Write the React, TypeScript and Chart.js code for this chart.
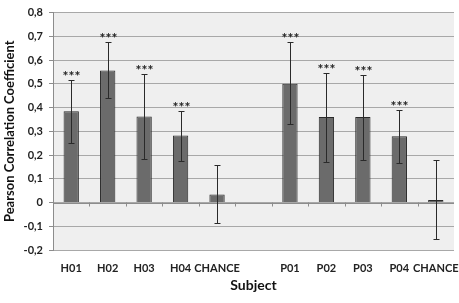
import React, { useEffect, useRef } from "react";
import { Chart, registerables } from "chart.js";

Chart.register(...registerables);

const categories = ["H01", "H02", "H03", "H04", "CHANCE", "", "P01", "P02", "P03", "P04", "CHANCE"];
const means: (number | null)[] = [0.384, 0.556, 0.362, 0.282, 0.034, null, 0.5, 0.36, 0.36, 0.279, 0.011];
const errHigh: (number | null)[] = [0.515, 0.678, 0.541, 0.384, 0.159, null, 0.676, 0.547, 0.539, 0.391, 0.179];
const errLow: (number | null)[] = [0.25, 0.44, 0.184, 0.176, -0.086, null, 0.331, 0.172, 0.18, 0.168, -0.152];
const significant: boolean[] = [true, true, true, true, false, false, true, true, true, true, false];
const yTicks = [-0.2, -0.1, 0, 0.1, 0.2, 0.3, 0.4, 0.5, 0.6, 0.7, 0.8];

const FONT = "Lato, 'Open Sans', sans-serif";

const plotBg = {
  id: "plotBg",
  beforeDraw(chart: any) {
    const { ctx, chartArea } = chart;
    ctx.save();
    ctx.fillStyle = "#efefef";
    ctx.fillRect(chartArea.left, chartArea.top, chartArea.right - chartArea.left, chartArea.bottom - chartArea.top);
    ctx.restore();
  },
};

const overlay = {
  id: "overlay",
  afterDatasetsDraw(chart: any) {
    const { ctx, chartArea } = chart;
    const x = chart.scales.x;
    const y = chart.scales.y;
    const y0 = y.getPixelForValue(0);
    ctx.save();
    ctx.strokeStyle = "#8c8c8c";
    ctx.lineWidth = 1;
    ctx.beginPath();
    ctx.moveTo(chartArea.left, Math.round(y0) + 0.5);
    ctx.lineTo(chartArea.right, Math.round(y0) + 0.5);
    ctx.stroke();
    for (let i = 1; i < categories.length; i++) {
      const bx = (x.getPixelForValue(i - 1) + x.getPixelForValue(i)) / 2;
      ctx.beginPath();
      ctx.moveTo(Math.round(bx) + 0.5, y0);
      ctx.lineTo(Math.round(bx) + 0.5, y0 + 4);
      ctx.stroke();
    }
    ctx.strokeStyle = "#2a2a2a";
    ctx.lineWidth = 1;
    for (let i = 0; i < categories.length; i++) {
      const hi = errHigh[i];
      const lo = errLow[i];
      if (hi == null || lo == null) continue;
      const cx = Math.round(x.getPixelForValue(i)) + 0.5;
      const yh = Math.round(y.getPixelForValue(hi)) + 0.5;
      const yl = Math.round(y.getPixelForValue(lo)) + 0.5;
      ctx.beginPath();
      ctx.moveTo(cx, yh);
      ctx.lineTo(cx, yl);
      ctx.moveTo(cx - 3, yh);
      ctx.lineTo(cx + 3, yh);
      ctx.moveTo(cx - 3, yl);
      ctx.lineTo(cx + 3, yl);
      ctx.stroke();
      if (significant[i]) {
        ctx.fillStyle = "#222";
        ctx.font = `bold 14px ${FONT}`;
        ctx.textAlign = "center";
        ctx.textBaseline = "alphabetic";
        ctx.fillText("***", cx, yh);
      }
    }
    ctx.restore();
  },
};

export default function App() {
  const ref = useRef<HTMLCanvasElement | null>(null);
  useEffect(() => {
    if (!ref.current) return;
    const chart = new Chart(ref.current, {
      type: "bar",
      data: {
        labels: categories,
        datasets: [
          {
            data: means as any,
            backgroundColor: "#6b6b6b",
            borderColor: "#2a2a2a",
            borderWidth: 1,
            barPercentage: 0.42,
            categoryPercentage: 1,
          },
        ],
      },
      options: {
        animation: false,
        responsive: false,
        maintainAspectRatio: false,
        layout: { padding: { top: 7, right: 5, left: 0, bottom: 0 } },
        plugins: { legend: { display: false }, tooltip: { enabled: false } },
        scales: {
          x: {
            grid: { display: false },
            border: { display: false },
            ticks: {
              color: "#222",
              font: { family: FONT, size: 11, weight: "bold" },
              maxRotation: 0,
              autoSkip: false,
              padding: 4,
            },
            title: {
              display: true,
              text: "Subject",
              color: "#111",
              font: { family: FONT, size: 14, weight: "bold" },
              padding: { top: 0, bottom: 9 },
            },
            afterFit(scale: any) {
              scale.height = 53;
              scale.paddingRight = 0;
              scale.paddingLeft = 0;
            },
          },
          y: {
            min: -0.2,
            max: 0.8,
            afterBuildTicks(scale: any) {
              scale.ticks = yTicks.map((v) => ({ value: v }));
            },
            grid: {
              color: "#a8a8a8",
              borderDash: [2, 2],
              tickBorderDash: [],
              tickColor: "#8c8c8c",
              tickLength: 4,
              drawTicks: true,
            },
            border: { display: true, color: "#8c8c8c", dash: [] },
            ticks: {
              color: "#222",
              font: { family: FONT, size: 11, weight: "bold" },
              padding: 6,
              callback: (v: any) => (Math.abs(v) < 1e-9 ? "0" : Number(v).toFixed(1).replace(".", ",")),
            },
            title: {
              display: true,
              text: "Pearson Correlation Coefficient",
              color: "#111",
              font: { family: FONT, size: 13, weight: "bold" },
              padding: { top: 2, bottom: 0 },
            },
            afterFit(scale: any) {
              scale.width = 53;
            },
          },
        },
      },
      plugins: [plotBg, overlay],
    });
    return () => chart.destroy();
  }, []);
  return (
    <div style={{ position: "fixed", left: 0, top: 0, width: 459, height: 303, background: "#fff" }}>
      <canvas ref={ref} width={459} height={303} style={{ display: "block" }} />
    </div>
  );
}
